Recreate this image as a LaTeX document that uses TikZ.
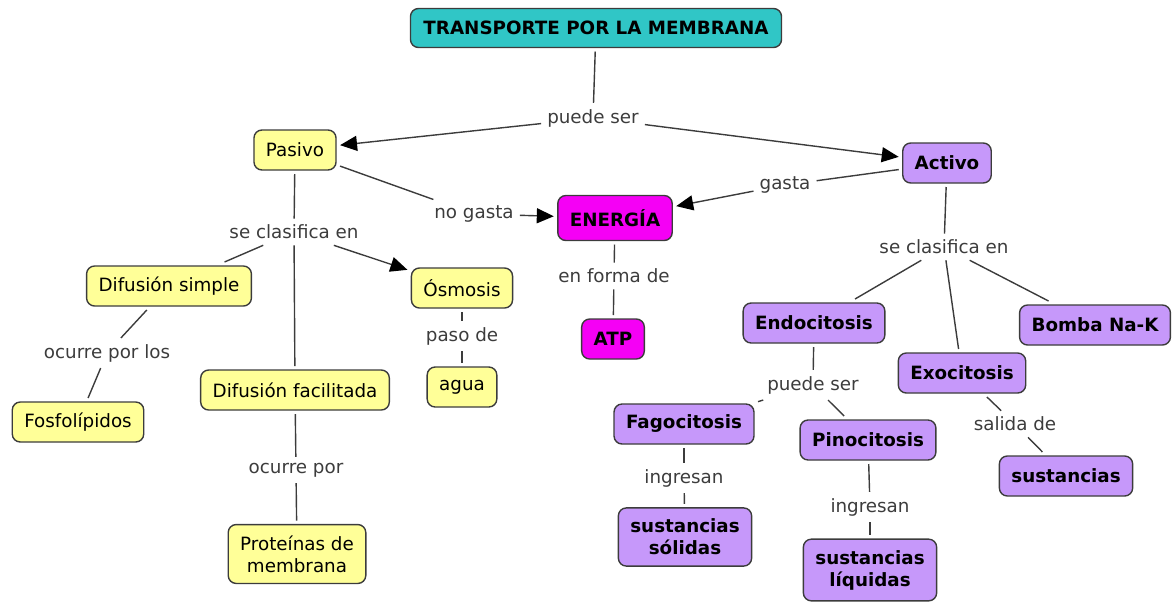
\documentclass[tikz,border=0pt]{standalone}
\usepackage{fontspec}
\setmainfont{DejaVu Sans}
\usepackage{tikz}
\usepackage{xcolor}
\usetikzlibrary{arrows.meta}

\definecolor{cmteal}{RGB}{48,198,198}
\definecolor{cmyellow}{RGB}{255,255,152}
\definecolor{cmpurple}{RGB}{198,152,250}
\definecolor{cmmagenta}{RGB}{245,0,245}
\definecolor{cmline}{RGB}{60,60,60}

\newcommand{\cmfont}{\fontsize{18.3}{22}\selectfont}

\tikzset{
    concept/.style={draw=cmline, line width=1.4pt, rounded corners=8pt,
        minimum height=40pt, inner xsep=12pt, inner ysep=4pt, outer sep=4pt,
        align=center, font=\cmfont},
    pasbox/.style={concept, fill=cmyellow},
    actbox/.style={concept, fill=cmpurple, font=\cmfont\bfseries},
    enbox/.style={concept, fill=cmmagenta, font=\cmfont\bfseries},
    doble/.style={inner ysep=11pt},
    linkword/.style={text=cmline, inner sep=6pt, font=\cmfont},
    link/.style={draw=cmline, line width=1.4pt},
    flecha/.style={link, -{Triangle[length=17pt,width=15pt,color=black]}}
}

\begin{document}
\begin{tikzpicture}[x=1pt, y=-1pt]
        \useasboundingbox (0,0) rectangle (1174,603);

        % Titulo
        \node[concept, fill=cmteal, font=\cmfont\bfseries,
            minimum height=39pt, inner xsep=13pt] (titulo) at (596,28) {TRANSPORTE POR LA MEMBRANA};
        \node[linkword] (puede1) at (593,118) {puede ser};
        \draw[link] (titulo) -- (puede1);

        % Pasivo y Activo
        \node[pasbox] (pasivo) at (295,150) {Pasivo};
        \node[actbox] (activo) at (947,163) {Activo};
        \draw[flecha] (puede1) -- (pasivo);
        \draw[flecha] (puede1) -- (activo);

        % Energia
        \node[enbox, minimum height=45pt] (energia) at (615,218) {ENERGÍA};
        \node[linkword] (nogasta) at (474,214) {no gasta};
        \node[linkword] (gasta) at (785,185) {gasta};
        \draw[link] (pasivo) -- (nogasta);
        \draw[flecha] (nogasta) -- (energia);
        \draw[link] (activo) -- (gasta);
        \draw[flecha] (gasta) -- (energia);
        \node[linkword] (enforma) at (614,276) {en forma de};
        \node[enbox] (atp) at (613,339) {ATP};
        \draw[link] (energia) -- (enforma);
        \draw[link] (enforma) -- (atp);

        % Rama pasiva
        \node[linkword] (clas1) at (294,232) {se clasifica en};
        \node[pasbox] (dsimple) at (169,286) {Difusión simple};
        \node[pasbox] (osmosis) at (462,288) {Ósmosis};
        \node[pasbox] (dfacil) at (295,390) {Difusión facilitada};
        \draw[link] (pasivo) -- (clas1);
        \draw[link] (clas1) -- (dsimple);
        \draw[flecha] (clas1) -- (osmosis);
        \draw[link] (clas1) -- (dfacil);

        \node[linkword] (ocurre1) at (107,353) {ocurre por los};
        \node[pasbox] (fosfo) at (78,422) {Fosfolípidos};
        \draw[link] (dsimple) -- (ocurre1);
        \draw[link] (ocurre1) -- (fosfo);

        \node[linkword] (paso) at (462,336) {paso de};
        \node[pasbox] (agua) at (462,387) {agua};
        \draw[link] (osmosis) -- (paso);
        \draw[link] (paso) -- (agua);

        \node[linkword] (ocurre2) at (296,470) {ocurre por};
        \node[pasbox, doble] (proteinas) at (297,554) {Proteínas de\\membrana};
        \draw[link] (dfacil) -- (ocurre2);
        \draw[link] (ocurre2) -- (proteinas);

        % Rama activa
        \node[linkword] (clas2) at (944,247) {se clasifica en};
        \node[actbox] (endo) at (814,323) {Endocitosis};
        \node[actbox] (exo) at (962,373) {Exocitosis};
        \node[actbox] (bomba) at (1095,325) {Bomba Na-K};
        \draw[link] (activo) -- (clas2);
        \draw[link] (clas2) -- (endo);
        \draw[link] (clas2) -- (exo);
        \draw[link] (clas2) -- (bomba);

        \node[linkword] (puede2) at (813,385) {puede ser};
        \node[actbox] (fago) at (684,424) {Fagocitosis};
        \node[actbox] (pino) at (868,440) {Pinocitosis};
        \draw[link] (endo) -- (puede2);
        \draw[link] (puede2) -- (fago);
        \draw[link] (puede2) -- (pino);

        \node[linkword] (ingresa1) at (684,478) {ingresan};
        \node[actbox, doble] (solidas) at (685,537) {sustancias\\sólidas};
        \draw[link] (fago) -- (ingresa1);
        \draw[link] (ingresa1) -- (solidas);

        \node[linkword] (ingresa2) at (870,507) {ingresan};
        \node[actbox, doble] (liquidas) at (870,570) {sustancias\\líquidas};
        \draw[link] (pino) -- (ingresa2);
        \draw[link] (ingresa2) -- (liquidas);

        \node[linkword] (salida) at (1015,424) {salida de};
        \node[actbox] (sustancias) at (1066,476) {sustancias};
        \draw[link] (exo) -- (salida);
        \draw[link] (salida) -- (sustancias);
    \end{tikzpicture}
\end{document}
